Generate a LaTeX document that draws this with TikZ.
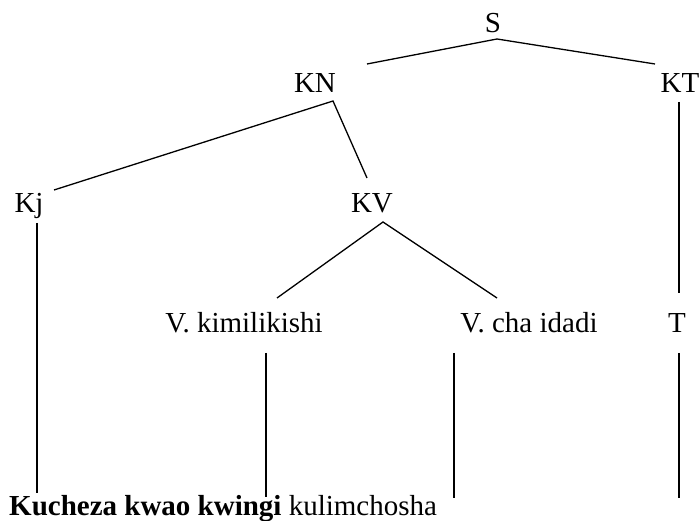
\documentclass[tikz,border=0pt]{standalone}
\usepackage{fontspec}
\setmainfont{Liberation Serif}
\begin{document}
\begin{tikzpicture}[x=1pt,y=-1pt,
  lbl/.style={anchor=base,inner sep=0pt,font=\fontsize{29}{34}\selectfont},
  edge/.style={line width=1.3pt}]
\useasboundingbox (0,0) rectangle (699,521);
% labels
\node[lbl] (S) at (493,33) {S};
\node[lbl] (KN) at (315,93) {KN};
\node[lbl] (KT) at (680,93) {KT};
\node[lbl] (Kj) at (29,213) {Kj};
\node[lbl] (KV) at (372,213) {KV};
\node[lbl] (Vk) at (244,333) {V. kimilikishi};
\node[lbl] (Vc) at (529,333) {V. cha idadi};
\node[lbl] (T) at (677,333) {T};
\node[lbl,anchor=base west] (W) at (9,515) {\textbf{Kucheza kwao kwingi} kulimchosha};
% connector end points
\coordinate (S-b) at (497,39);
\coordinate (KN-t) at (367,64);
\coordinate (KT-t) at (655,64);
\coordinate (KN-b) at (333,101);
\coordinate (Kj-t) at (54,190);
\coordinate (KV-t) at (367,178);
\coordinate (KT-b) at (679,102);
\coordinate (T-t) at (679,293);
\coordinate (Kj-b) at (37,223);
\coordinate (W-a) at (37,493);
\coordinate (KV-b) at (383,222);
\coordinate (Vk-t) at (277,298);
\coordinate (Vc-t) at (497,298);
\coordinate (Vk-b) at (266,353);
\coordinate (W-b) at (266,497);
\coordinate (Vc-b) at (454,353);
\coordinate (W-c) at (454,498);
\coordinate (T-b) at (679,353);
\coordinate (W-d) at (679,498);
% connectors
\draw[edge] (KN-t) -- (S-b) -- (KT-t);
\draw[edge] (Kj-t) -- (KN-b) -- (KV-t);
\draw[edge] (KT-b) -- (T-t);
\draw[edge] (Kj-b) -- (W-a);
\draw[edge] (Vk-t) -- (KV-b) -- (Vc-t);
\draw[edge] (Vk-b) -- (W-b);
\draw[edge] (Vc-b) -- (W-c);
\draw[edge] (T-b) -- (W-d);
\end{tikzpicture}
\end{document}
